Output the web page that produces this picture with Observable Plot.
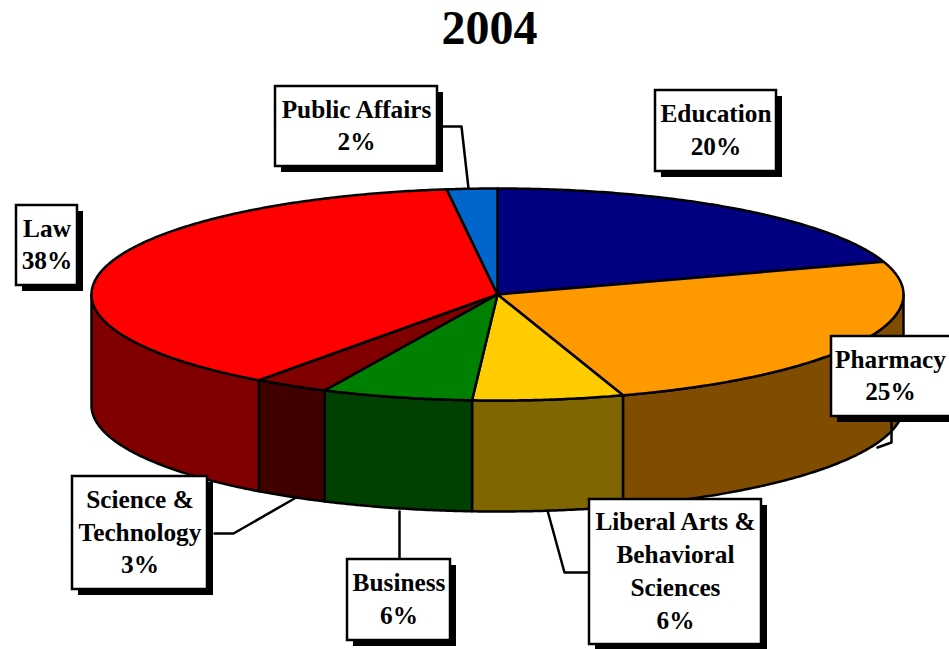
<!DOCTYPE html>
<html>
<head>
<meta charset="utf-8">
<style>
html,body{margin:0;padding:0;background:#fff;overflow:hidden}
svg{display:block}
</style>
<script src="https://cdn.jsdelivr.net/npm/d3@7"></script>
<script src="https://cdn.jsdelivr.net/npm/@observablehq/plot@0.6"></script>
</head>
<body>
<div id="chart"></div>
<script>
// Chart values
const chartTitle = "2004";
const colleges = ["Education", "Pharmacy", "Liberal Arts & Behavioral Sciences", "Business", "Science & Technology", "Law", "Public Affairs"];
const shares = [20, 25, 6, 6, 3, 38, 2];
const labelNames = ["Education", "Pharmacy", "Liberal Arts &\nBehavioral\nSciences", "Business", "Science &\nTechnology", "Law", "Public Affairs"];
const topColors = ["#000080", "#ff9900", "#ffcc00", "#008000", "#800000", "#ff0000", "#0066cc"];
const sideColors = ["#000040", "#804d00", "#806600", "#004000", "#400000", "#800000", "#003366"];

// Layout (chart units equal to page pixels)
const W = 949, H = 649;
const pie = {cx: 497, cy: 294, rx: 406, ry: 106, depth: 111};
const boxes = [
  [655, 776, 90, 171],
  [831, 952, 336, 416],
  [589, 761, 499, 644],
  [347, 450, 559, 640],
  [72, 207, 476, 589],
  [16, 77, 205, 285],
  [275, 437, 86, 166]
];
const shadowOffset = 6;
const leaders = [
  [[891, 416], [891, 442], [877, 447]],
  [[589, 572], [564, 572], [547, 510]],
  [[399, 559], [399, 511]],
  [[214, 533], [233, 533], [294, 498]],
  [[437, 126], [461, 126], [468, 188]]
];

// Geometry derived from the shares
const rad = d => d * Math.PI / 180;
const rim = (deg, drop = 0) => ({
  x: pie.cx + pie.rx * Math.sin(rad(deg)),
  y: pie.cy - pie.ry * Math.cos(rad(deg)) + drop
});
const arcSteps = (a, b) => {
  const n = Math.max(2, Math.ceil((b - a) / 0.5));
  return d3.range(n + 1).map(i => a + (b - a) * i / n);
};
let cum = 0;
const slices = colleges.map((name, i) => {
  const a0 = cum * 3.6;
  cum += shares[i];
  return {name, a0, a1: cum * 3.6};
});
const topPts = slices.flatMap(s => [
  {x: pie.cx, y: pie.cy},
  ...arcSteps(s.a0, s.a1).map(d => rim(d)),
  {x: pie.cx, y: pie.cy}
].map(p => ({...p, key: s.name})));
const sidePts = slices.flatMap(s => {
  const a = Math.max(s.a0, 90), b = Math.min(s.a1, 270);
  if (b <= a) return [];
  const steps = arcSteps(a, b);
  const pts = [
    ...steps.map(d => rim(d)),
    ...steps.slice().reverse().map(d => rim(d, pie.depth))
  ];
  return [...pts, pts[0]].map(p => ({...p, key: s.name + " side"}));
});
const leaderPts = leaders.flatMap((l, i) => l.map(([x, y]) => ({x, y, i})));
const boxRows = boxes.map(([x1, x2, y1, y2], i) => ({
  x1, x2, y1, y2,
  text: labelNames[i] + "\n" + shares[i] + "%"
}));

const serif = "'Liberation Serif', 'Times New Roman', serif";
const plot = Plot.plot({
  width: W,
  height: H,
  margin: 0,
  style: {background: "#fff", overflow: "hidden"},
  x: {domain: [0, W], range: [0, W], axis: null},
  y: {domain: [0, H], range: [0, H], axis: null},
  color: {
    domain: [...colleges, ...colleges.map(n => n + " side")],
    range: [...topColors, ...sideColors]
  },
  marks: [
    Plot.line(sidePts, {x: "x", y: "y", z: "key", fill: "key", stroke: "#000", strokeWidth: 2.5}),
    Plot.line(topPts, {x: "x", y: "y", z: "key", fill: "key", stroke: "#000", strokeWidth: 2.5}),
    Plot.line(leaderPts, {x: "x", y: "y", z: "i", stroke: "#000", strokeWidth: 2.5}),
    Plot.rect(boxRows, {
      x1: d => d.x1 + shadowOffset, x2: d => d.x2 + shadowOffset,
      y1: d => d.y1 + shadowOffset, y2: d => d.y2 + shadowOffset,
      fill: "#000", clip: true
    }),
    Plot.rect(boxRows, {x1: "x1", x2: "x2", y1: "y1", y2: "y2", fill: "#fff", stroke: "#000", strokeWidth: 2.5, clip: true}),
    Plot.text(boxRows, {
      x: d => (d.x1 + Math.min(d.x2, W)) / 2,
      y: d => (d.y1 + d.y2) / 2 - 3,
      text: "text",
      fontFamily: serif, fontWeight: "bold", fontSize: 25.3, lineHeight: 1.3, fill: "#000"
    }),
    Plot.text([chartTitle], {
      x: () => 489, y: () => 28, text: d => d,
      fontFamily: serif, fontWeight: "bold", fontSize: 48, fill: "#000"
    })
  ]
});
document.getElementById("chart").append(plot);
</script>
</body>
</html>
